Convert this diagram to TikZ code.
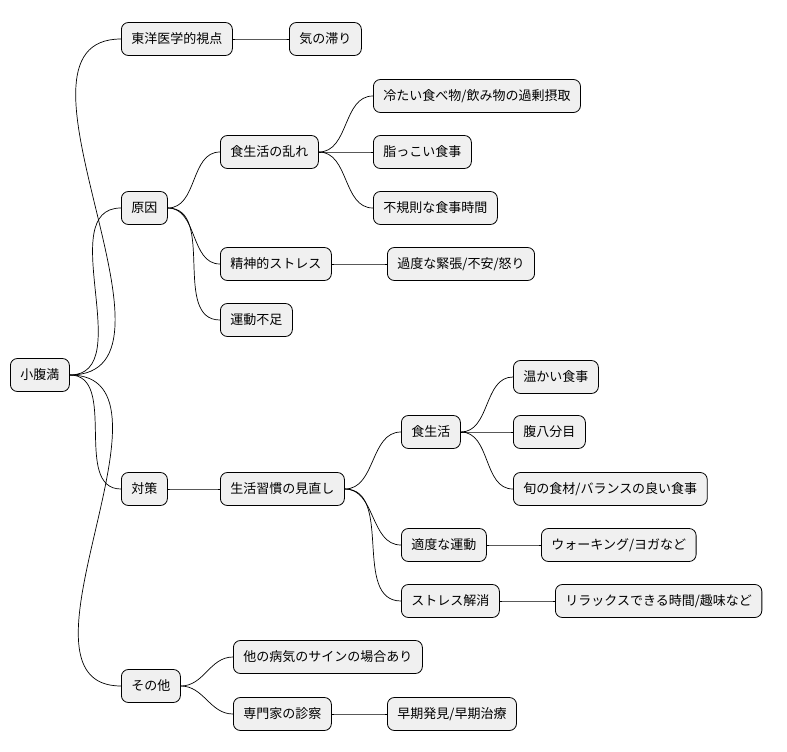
\documentclass[tikz,border=0pt]{standalone}
\usepackage{fontspec}
\setmainfont{Noto Sans CJK JP}
\begin{document}
\begin{tikzpicture}[x=1pt,y=-1pt,
  box/.style={draw=black,line width=0.8pt,fill=black!6,rounded corners=7pt,anchor=west,minimum height=33pt,inner xsep=10pt,font=\fontsize{13}{15}\selectfont},
  conn/.style={line width=0.7pt}]
\useasboundingbox (0,0) rectangle (787,752);
\node[box] (r) at (10,375) {小腹満};
\node[box] (a) at (121,39) {東洋医学的視点};
\node[box] (a1) at (289,39) {気の滞り};
\node[box] (b) at (121,208) {原因};
\node[box] (b1) at (220,152) {食生活の乱れ};
\node[box] (b11) at (373,96) {冷たい食べ物/飲み物の過剰摂取};
\node[box] (b12) at (373,152) {脂っこい食事};
\node[box] (b13) at (373,208) {不規則な食事時間};
\node[box] (b2) at (220,264) {精神的ストレス};
\node[box] (b21) at (387,264) {過度な緊張/不安/怒り};
\node[box] (b3) at (220,320) {運動不足};
\node[box] (c) at (121,489) {対策};
\node[box] (c1) at (220,489) {生活習慣の見直し};
\node[box] (c11) at (401,432) {食生活};
\node[box] (c111) at (513,377) {温かい食事};
\node[box] (c112) at (513,432) {腹八分目};
\node[box] (c113) at (513,489) {旬の食材/バランスの良い食事};
\node[box] (c12) at (401,545) {適度な運動};
\node[box] (c121) at (541,545) {ウォーキング/ヨガなど};
\node[box] (c13) at (401,601) {ストレス解消};
\node[box] (c131) at (555,601) {リラックスできる時間/趣味など};
\node[box] (d) at (121,686) {その他};
\node[box] (d1) at (233,657) {他の病気のサインの場合あり};
\node[box] (d2) at (233,714) {専門家の診察};
\node[box] (d21) at (387,714) {早期発見/早期治療};
\foreach \p/\c in {r/a,r/b,r/c,r/d,a/a1,b/b1,b/b2,b/b3,b1/b11,b1/b12,b1/b13,b2/b21,c/c1,c1/c11,c1/c12,c1/c13,c11/c111,c11/c112,c11/c113,c12/c121,c13/c131,d/d1,d/d2,d2/d21}
  \draw[conn] (\p.east) to[out=0,in=180] (\c.west);
\end{tikzpicture}
\end{document}
